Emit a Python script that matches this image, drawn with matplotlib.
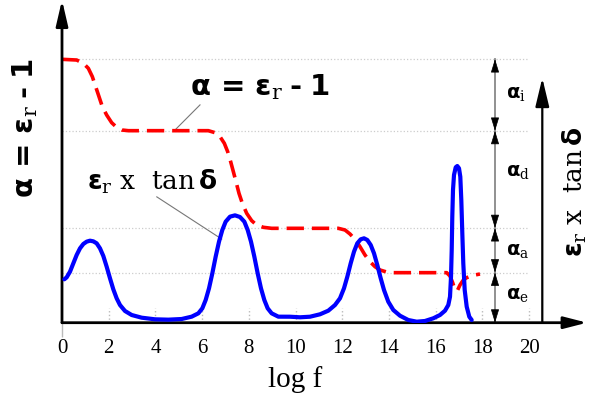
import matplotlib
matplotlib.use("Agg")
import matplotlib.pyplot as plt

# ---------------- data ----------------
ticks = [0, 2, 4, 6, 8, 10, 12, 14, 16, 18, 20]
tick_labels = ["0", "2", "4", "6", "8", "10", "12", "14", "16", "18", "20"]

# alpha = eps_r - 1 (red dashed)
red_x = [0.000, 0.628, 0.914, 1.128, 1.299, 1.442, 1.585, 1.727, 1.913, 2.127,
         2.341, 2.556, 2.841, 6.267, 6.552, 6.767, 6.952, 7.095, 7.223, 7.338,
         7.452, 7.580, 7.723, 7.909, 8.123, 8.337, 8.622, 8.979, 11.834, 12.120,
         12.334, 12.548, 12.762, 12.976, 13.191, 13.405, 13.619, 13.904, 14.190,
         16.474, 16.617, 16.731, 16.831, 16.931, 17.045, 17.188, 17.330, 17.545,
         17.901]
red_y = [5.986, 5.970, 5.895, 5.781, 5.592, 5.364, 5.137, 4.910, 4.720, 4.546,
         4.440, 4.380, 4.364, 4.364, 4.319, 4.228, 4.077, 3.887, 3.660, 3.433,
         3.205, 2.940, 2.713, 2.486, 2.319, 2.220, 2.168, 2.145, 2.145, 2.107,
         2.016, 1.895, 1.728, 1.539, 1.387, 1.273, 1.198, 1.152, 1.137,
         1.137, 1.061, 0.910, 0.743, 0.728, 0.857, 0.970, 1.023, 1.069,
         1.107]

# eps_r x tan(delta) (blue)
blue_x = [0.100, 0.200, 0.343, 0.485, 0.628, 0.771, 0.914, 1.057, 1.199, 1.342,
          1.485, 1.627, 1.770, 1.913, 2.056, 2.198, 2.341, 2.484, 2.698, 2.984,
          3.412, 3.983, 4.554, 5.125, 5.553, 5.839, 6.010, 6.153, 6.296, 6.438,
          6.581, 6.724, 6.866, 7.009, 7.195, 7.409, 7.623, 7.809, 7.952, 8.094,
          8.237, 8.380, 8.522, 8.665, 8.808, 8.979, 9.265, 9.764, 10.193, 10.621,
          11.049, 11.405, 11.692, 11.906, 12.077, 12.219, 12.364, 12.505, 12.647,
          12.792, 12.934, 13.075, 13.221, 13.362, 13.503, 13.649, 13.790, 13.974,
          14.188, 14.475, 14.831, 15.191, 15.546, 15.901, 16.188, 16.403, 16.544,
          16.617, 16.660, 16.690, 16.715, 16.745, 16.788, 16.861, 16.929, 17.002,
          17.058, 17.101, 17.144, 17.186, 17.246, 17.332, 17.443, 17.546]
blue_y = [0.986, 1.031, 1.160, 1.349, 1.539, 1.690, 1.789, 1.842, 1.864, 1.849,
          1.804, 1.690, 1.516, 1.273, 1.008, 0.758, 0.554, 0.402, 0.266, 0.175,
          0.114, 0.077, 0.069, 0.084, 0.137, 0.213, 0.327, 0.516, 0.781, 1.122,
          1.501, 1.842, 2.107, 2.296, 2.410, 2.440, 2.402, 2.296, 2.107, 1.842,
          1.501, 1.122, 0.781, 0.516, 0.327, 0.213, 0.137, 0.136, 0.123, 0.136,
          0.191, 0.273, 0.402, 0.555, 0.782, 1.045, 1.350, 1.614, 1.805,
          1.895, 1.918, 1.880, 1.766, 1.577, 1.311, 1.009, 0.743, 0.477,
          0.289, 0.159, 0.061, 0.023, 0.039, 0.100, 0.175, 0.273, 0.402,
          0.591, 1.045, 1.652, 2.409, 3.016, 3.357, 3.532, 3.561, 3.509,
          3.318, 2.789, 2.032, 1.350, 0.743, 0.364, 0.136, 0.061]

levels = [5.99, 4.36, 2.15, 1.14, 0.0]
comp_names = ["i", "d", "a", "e"]
comp_label_y = [5.22, 3.43, 1.65, 0.63]

# ---------------- style ----------------
plt.rcParams["mathtext.fontset"] = "custom"
plt.rcParams["mathtext.rm"] = "DejaVu Serif"
plt.rcParams["mathtext.it"] = "DejaVu Serif:italic"
plt.rcParams["mathtext.bf"] = "DejaVu Sans:bold"

W, H = 600, 409
fig = plt.figure(figsize=(W / 100, H / 100), dpi=100)
x0px, y0px = 62, 322.7
xscale, yscale = 23.35, 44.0
ax = fig.add_axes([x0px / W, 1 - y0px / H, (W - 13 - x0px) / W, y0px / H])
xmax = (W - 13 - x0px) / xscale
ymax = y0px / yscale
ax.set_xlim(0, xmax)
ax.set_ylim(0, ymax)
for s in ax.spines.values():
    s.set_visible(False)
ax.set_yticks([])
ax.set_xticks(ticks)
ax.set_xticklabels(tick_labels, fontsize=15, family="Liberation Serif")
ax.tick_params(axis="x", length=0, pad=12)
ax.patch.set_alpha(0)

# tick marks (dotted grey)
ax.vlines(ticks[1:], 0, 0.34, colors="#bbbbbb", linestyles=":", lw=1.0, zorder=1)
ax.vlines([0], -0.33, 0, colors="#bbbbbb", lw=1.0, zorder=1, clip_on=False)

# horizontal level guides
ax.hlines(levels[:4], 0, 19.95, colors="#cccccc", linestyles=":", lw=0.9, zorder=1)

# curves
ax.plot(red_x, red_y, color="#ff0000", lw=2.6, dashes=(4.8, 2.2),
        dash_capstyle="butt", zorder=3)
ax.plot(blue_x, blue_y, color="#0000ff", lw=3.0, solid_joinstyle="round",
        solid_capstyle="round", zorder=4)


def arrow(xy_from, xy_to, hl, hw, lw, color="black"):
    ax.annotate("", xy=xy_to, xytext=xy_from, xycoords="data",
                annotation_clip=False,
                arrowprops=dict(arrowstyle=f"-|>,head_length={hl},head_width={hw}",
                                mutation_scale=10, lw=lw, color=color,
                                shrinkA=0, shrinkB=0))


# main axes arrows
arrow((0, 0), (xmax, 0), 1.4, 0.36, 2.0)
arrow((0, 0), (0, ymax), 1.55, 0.36, 2.0)
# right axis arrow
xr = (542.3 - x0px) / xscale
arrow((xr, 0), (xr, (y0px - 78) / yscale), 1.75, 0.42, 1.6)

# component double arrows
xa = (495 - x0px) / xscale
ax.plot([xa, xa], [0, levels[0]], color="#888888", lw=1.3, zorder=2, clip_on=False)
hl_data = 12 / yscale
for top, bot in zip(levels[:-1], levels[1:]):
    arrow((xa, top - hl_data), (xa, top), 0.85, 0.26, 0.5)
    arrow((xa, bot + hl_data), (xa, bot), 0.85, 0.26, 0.5)
for name, ly in zip(comp_names, comp_label_y):
    ax.text(xa + 0.45, ly, r"$\mathbf{α}_\mathrm{%s}$" % name, fontsize=14,
            ha="left", va="center")

alpha_label = r"$\mathbf{α\,=\,ε}_\mathrm{r}\mathbf{\;‐\;1}$"
loss_label = r"$\mathbf{ε}_\mathrm{r}\ \mathrm{x}\ \ \mathrm{tan}\,\mathbf{δ}$"

# in-plot labels with leader lines
ax.text(5.48, 5.175, alpha_label, fontsize=21, ha="left", va="baseline")
ax.plot([5.91, 4.84], [4.95, 4.38], color="#777777", lw=0.8, zorder=2)
ax.text(1.06, 3.02, loss_label, fontsize=19, ha="left", va="baseline")
ax.plot([4.06, 6.84], [2.86, 1.90], color="#777777", lw=0.8, zorder=2)

# axis titles
ax.text(-1.585, 4.41, alpha_label, fontsize=21, rotation=90,
        ha="center", va="center")
ax.text((575 - x0px) / xscale, 2.97, loss_label, fontsize=19, rotation=90,
        ha="center", va="center", clip_on=False)
ax.text(10, -1.30, "log f", fontsize=21, family="Liberation Serif",
        ha="center", va="center")

fig.savefig("out.png", dpi=100)
